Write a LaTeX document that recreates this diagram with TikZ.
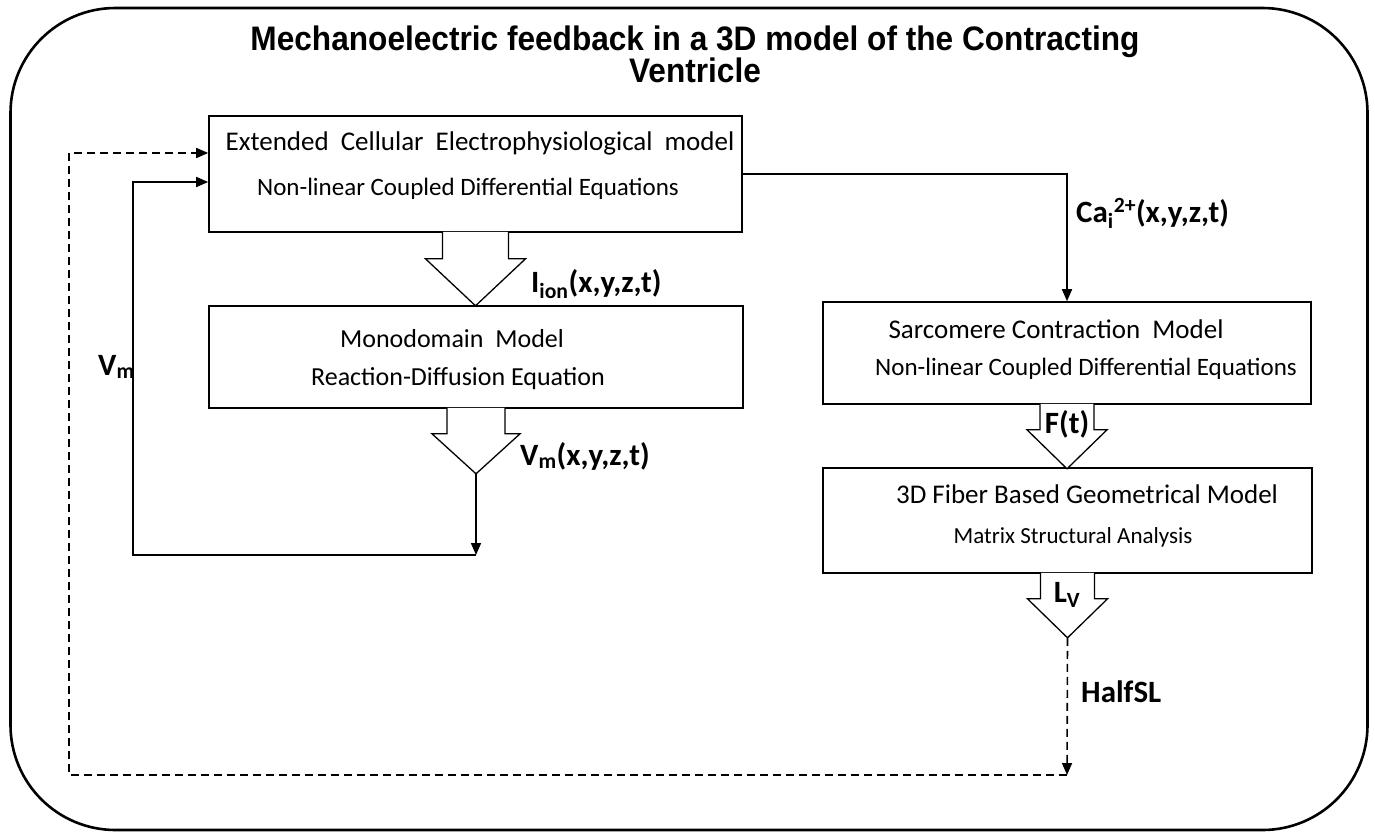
\documentclass[tikz,border=0pt]{standalone}
\usepackage{fontspec}
\setmainfont{Carlito}
\newfontfamily\titlefont[FakeStretch=0.93]{Liberation Sans}
\usetikzlibrary{arrows.meta}

\begin{document}
\begin{tikzpicture}[
		x=1pt, y=-1pt,
		box/.style={draw, line width=1.6pt, rectangle, inner sep=0pt},
		head/.style={inner sep=0pt, anchor=base, font=\fontsize{27}{29}\selectfont},
		sub/.style={inner sep=0pt, anchor=base, font=\fontsize{25}{27}\selectfont},
		lbl/.style={inner sep=0pt, anchor=base west, font=\fontsize{31}{33}\selectfont\bfseries},
		fat/.style={draw, line width=1.3pt, fill=white, line join=miter},
		flow/.style={line width=1.6pt, -{Triangle[length=12pt, width=10pt]}},
		back/.style={flow, dash pattern=on 8pt off 5pt},
		]
		\useasboundingbox (0,0) rectangle (1375,833);
		\node[draw, line width=2.6pt, rounded corners=105pt, minimum width=1357pt, minimum height=822pt, inner sep=0pt] (frame) at (689,419) {};
		\node[inner sep=0pt, anchor=base, font=\titlefont\fontsize{34}{36}\selectfont\bfseries] (title1) at (695,50) {Mechanoelectric feedback in a 3D model of the Contracting};
		\node[inner sep=0pt, anchor=base, font=\titlefont\fontsize{34}{36}\selectfont\bfseries] (title2) at (695,82) {Ventricle};
		% boxes
		\node[box, minimum width=533pt, minimum height=116pt] (cell) at (475.5,174) {};
		\node[box, minimum width=534pt, minimum height=102pt] (mono) at (476,357) {};
		\node[box, minimum width=488pt, minimum height=102pt] (sarc) at (1067,353) {};
		\node[box, minimum width=489pt, minimum height=105pt] (geo) at (1067.5,520.5) {};
		\node[head] (cellA) at (480,150) {Extended\hspace{12pt}Cellular\hspace{12pt}Electrophysiological\hspace{12pt}model};
		\node[sub] (cellB) at (468,195) {Non-linear Coupled Differential Equations};
		\node[head, font=\fontsize{26}{28}\selectfont] (monoA) at (452,347) {Monodomain\ \ Model};
		\node[sub, font=\fontsize{26}{28}\selectfont] (monoB) at (458,385) {Reaction-Diffusion Equation};
		\node[head] (sarcA) at (1056,338) {Sarcomere Contraction\ \ Model};
		\node[sub] (sarcB) at (1086,375) {Non-linear Coupled Differential Equations};
		\node[head] (geoA) at (1087,503) {3D Fiber Based Geometrical Model};
		\node[sub, font=\fontsize{23}{25}\selectfont] (geoB) at (1073,543) {Matrix Structural Analysis};
		% block arrows
		\draw[fat] (cell.south) ++(-33,-1) -- ++(0,27) -- ++(-17,0) -- ++(50,47) coordinate (tipA) -- ++(50,-47) -- ++(-17,0) -- ++(0,-27);
		\draw[fat] (mono.south) ++(-29,-1) -- ++(0,26) -- ++(-15,0) -- ++(44,40) coordinate (tipB) -- ++(44,-40) -- ++(-15,0) -- ++(0,-26);
		\draw[fat] (sarc.south) ++(-27,-1) -- ++(0,26) -- ++(-13,0) -- ++(40,39) coordinate (tipC) -- ++(40,-39) -- ++(-13,0) -- ++(0,-26);
		\draw[fat] (geo.south) ++(-27,-1) -- ++(0,26) -- ++(-13,0) -- ++(40,39) coordinate (tipD) -- ++(40,-39) -- ++(-13,0) -- ++(0,-26);
		% labels
		\node[lbl] (ion) at (531,292) {I\textsubscript{ion}(x,y,z,t)};
		\node[lbl] (vmxyz) at (520,465) {V\textsubscript{m}(x,y,z,t)};
		\node[lbl] (vm) at (98,375) {V\textsubscript{m}};
		\node[lbl] (ca) at (1076,222) {Ca\textsubscript{i}\textsuperscript{2+}(x,y,z,t)};
		\node[lbl, anchor=base] (force) at (1067,433) {F(t)};
		\node[lbl, anchor=base] (lv) at (1067,602) {L\textsubscript{V}};
		\node[lbl] (halfsl) at (1081,702) {HalfSL};
		% connectors
		\coordinate (vmdown) at (476,555);
		\coordinate (vmleft) at (133,555);
		\coordinate (hsldown) at (1067,775);
		\coordinate (hslleft) at (69,775);
		\draw[flow] (cell.east) -| (sarc.north);
		\draw[flow] (tipB) -- (vmdown);
		\draw[flow] (vmdown) -- (vmleft) |- ([yshift=-8pt]cell.west);
		\draw[back] (tipD) -- (hsldown);
		\draw[back] (hsldown) -- (hslleft) |- ([yshift=21pt]cell.west);
	\end{tikzpicture}
\end{document}
